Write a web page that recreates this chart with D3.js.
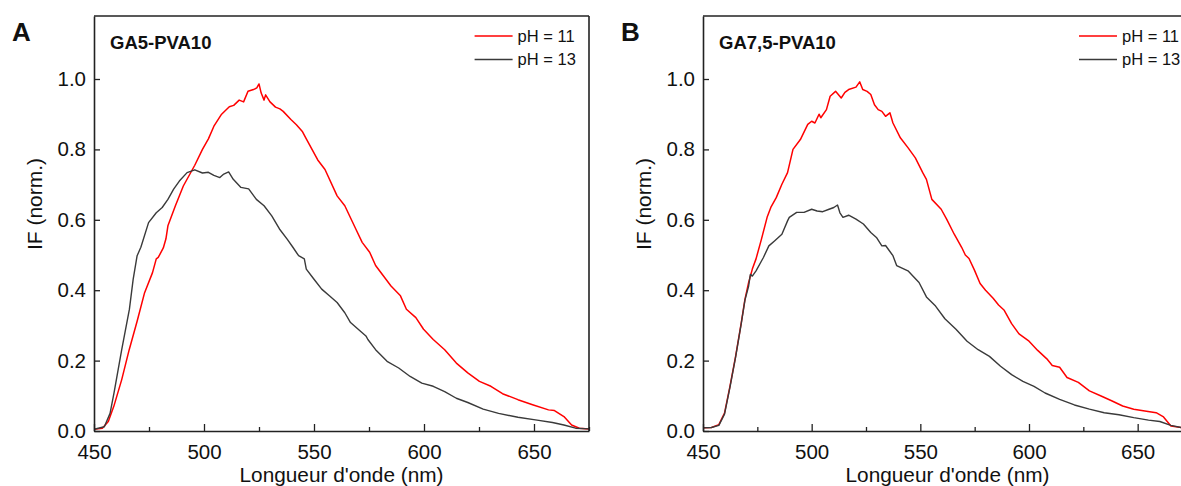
<!DOCTYPE html>
<html>
<head>
<meta charset="utf-8">
<script src="https://cdn.jsdelivr.net/npm/d3@7"></script>
<style>
  html, body { margin: 0; padding: 0; background: #fff; }
  svg { display: block; font-family: "Liberation Sans", Arial, sans-serif; }
</style>
</head>
<body>
<svg id="chart" width="1181" height="486"></svg>
<script>
// ---------------- DATA ----------------
const xTicks = [450, 500, 550, 600, 650];
const xMinorTicks = [475, 525, 575, 625, 675];
const yTicks = [0.0, 0.2, 0.4, 0.6, 0.8, 1.0];
const legendLabels = ["pH = 11", "pH = 13"];
const panelLetters = ["A", "B"];
const panelTitles = ["GA5-PVA10", "GA7,5-PVA10"];
const xLabel = "Longueur d'onde (nm)";
const yLabel = "IF (norm.)";

// Panel A, pH = 11
const wlA11 = [450,453.8,456.5,459,462.6,466,469.6,473,476.6,478.3,479.2,481.5,482.7,483.6,487,490.6,495.8,499.3,502,504.5,508,511.5,513.5,516,518,520,522.5,524,525,526,527.3,528,530,532.5,534.5,536,539.5,542,544.8,546.5,551.7,555,560.5,564,569,571.9,575.3,578,581.5,585,589.3,592,596.3,599.8,604.2,609.4,614.7,619.9,625.2,630.4,635.7,642.7,649.7,656.6,659.3,663.6,667.1,670.6,675];
const ifA11 = [0.005,0.008,0.027,0.07,0.146,0.231,0.312,0.393,0.45,0.489,0.493,0.52,0.546,0.583,0.64,0.696,0.755,0.80,0.83,0.866,0.9,0.921,0.925,0.94,0.935,0.965,0.97,0.975,0.986,0.96,0.94,0.955,0.935,0.92,0.915,0.908,0.885,0.87,0.85,0.83,0.77,0.743,0.668,0.64,0.574,0.536,0.508,0.47,0.441,0.412,0.384,0.346,0.322,0.289,0.26,0.231,0.193,0.165,0.141,0.127,0.106,0.089,0.074,0.06,0.058,0.041,0.017,0.008,0.006];

// Panel A, pH = 13
const wlA13 = [450,454.7,457.3,459.1,462.6,466.1,467.8,469.6,471.3,474.8,478.3,481,483.6,486.2,488.8,492.3,495.8,499.3,502,504.5,507.2,509,511.2,513.3,516.8,520.3,523.8,527.3,530.8,534.3,537.8,540.4,543,545.6,546.5,550,553.5,557,560.5,564,566.6,571,573.6,574.5,578,583.2,588.5,593.7,599,604.2,609.4,614.7,619.9,626.9,633.9,642.7,651.4,658.4,663.6,668.9,675];
const ifA13 = [0.005,0.012,0.05,0.108,0.231,0.346,0.431,0.498,0.522,0.592,0.62,0.635,0.658,0.687,0.71,0.734,0.742,0.733,0.735,0.726,0.72,0.73,0.736,0.715,0.692,0.688,0.658,0.64,0.611,0.574,0.545,0.522,0.498,0.489,0.46,0.431,0.403,0.384,0.365,0.336,0.308,0.284,0.27,0.26,0.231,0.198,0.179,0.155,0.136,0.127,0.112,0.093,0.081,0.062,0.05,0.039,0.031,0.024,0.017,0.008,0.006];

// Panel B, pH = 11
const wlB11 = [450,453.9,457.3,459.9,462.4,465,467.6,469.3,471,472.7,474.4,476.9,479.5,481.2,483.7,486.3,488.9,491.4,494.8,498.2,500,501.5,503.4,504.2,506.8,508.5,511,513.6,515.3,517,520.4,522.1,523.5,525.5,527.2,528.9,530.6,532.3,534,536,537.4,540.8,544.3,547.7,551.1,552.8,555.3,559.6,562.1,565.6,569,570.7,572.4,574.9,577.5,580,583.5,586,588.6,592,595.4,599.7,604,608.2,610.7,614.1,617.5,622.7,627.8,632.9,638,643.1,648.2,653.3,658.5,661.9,665.3,670,675];
const ifB11 = [0.009,0.01,0.018,0.051,0.127,0.212,0.307,0.374,0.422,0.46,0.489,0.545,0.607,0.635,0.663,0.701,0.734,0.8,0.828,0.871,0.88,0.875,0.9,0.89,0.913,0.951,0.965,0.946,0.962,0.97,0.977,0.992,0.97,0.965,0.956,0.927,0.913,0.908,0.894,0.904,0.875,0.833,0.805,0.776,0.734,0.715,0.658,0.63,0.602,0.559,0.522,0.5,0.49,0.457,0.419,0.4,0.377,0.358,0.343,0.305,0.276,0.257,0.229,0.205,0.186,0.181,0.152,0.138,0.114,0.1,0.086,0.071,0.062,0.057,0.052,0.04,0.014,0.01,0.008];

// Panel B, pH = 13
const wlB13 = [450,453.9,457.3,459.9,462.4,465,467.6,469.3,471,471.8,472.7,474.4,477.8,480.3,482.9,486.3,488.9,489.7,493.1,496.5,500,502.5,505.1,508,510.2,511.9,513,514.4,517,520.4,523.8,527.2,529.8,532.3,534,537.4,539.1,544.3,549.4,552.8,557,561.3,566.4,571.5,576.6,581.8,586.9,592,597.2,602.3,607.4,614.1,620.9,627.8,634.6,641.4,648.2,655,660.2,665.3,670,675];
const ifB13 = [0.009,0.01,0.016,0.048,0.124,0.21,0.305,0.372,0.412,0.445,0.44,0.455,0.493,0.526,0.54,0.559,0.597,0.607,0.621,0.621,0.63,0.625,0.623,0.63,0.635,0.642,0.62,0.607,0.613,0.602,0.588,0.564,0.55,0.526,0.527,0.498,0.47,0.455,0.422,0.381,0.355,0.319,0.289,0.255,0.231,0.212,0.184,0.16,0.141,0.127,0.108,0.09,0.074,0.062,0.052,0.046,0.038,0.031,0.027,0.016,0.01,0.008];

const seriesColors = ["#ff0000", "#3a3a3a"];

// ---------------- DRAW ----------------
const svg = d3.select("#chart");
const FONT = '"Liberation Sans", Arial, sans-serif';

const panels = [
  { left: 94, width: 495, series: [[wlA11, ifA11], [wlA13, ifA13]] },
  { left: 703, width: 489, series: [[wlB11, ifB11], [wlB13, ifB13]] }
];
const plotTop = 16, plotBottom = 431;

panels.forEach((p, i) => {
  const x = d3.scaleLinear().domain([450, 675]).range([p.left, p.left + p.width]);
  const y = d3.scaleLinear().domain([0, 1.179]).range([plotBottom, plotTop]);

  const g = svg.append("g");

  const clipId = "clip" + i;
  svg.append("clipPath").attr("id", clipId)
    .append("rect").attr("x", p.left).attr("y", plotTop)
    .attr("width", p.width).attr("height", plotBottom - plotTop);

  const line = d3.line().x(d => x(d[0])).y(d => y(d[1]));
  p.series.forEach((s, k) => {
    const pts = s[0].map((w, j) => [w, s[1][j]]);
    g.append("path").datum(pts)
      .attr("clip-path", `url(#${clipId})`)
      .attr("fill", "none")
      .attr("stroke", seriesColors[k])
      .attr("stroke-width", k === 0 ? 1.5 : 1.4)
      .attr("stroke-linejoin", "round")
      .attr("d", line);
  });

  // frame (top + right)
  g.append("line").attr("x1", p.left).attr("x2", p.left + p.width)
    .attr("y1", plotTop).attr("y2", plotTop).attr("stroke", "#222").attr("stroke-width", 1.6);
  g.append("line").attr("x1", p.left + p.width).attr("x2", p.left + p.width)
    .attr("y1", plotTop).attr("y2", plotBottom).attr("stroke", "#222").attr("stroke-width", 1.6);

  // x axis (minor)
  const xMinor = d3.axisBottom(x).tickValues(xMinorTicks).tickSizeInner(-4).tickSizeOuter(0).tickFormat("");
  const gxm = g.append("g").attr("transform", `translate(0,${plotBottom})`).call(xMinor);
  gxm.select(".domain").remove();
  gxm.selectAll(".tick line").attr("stroke", "#222").attr("stroke-width", 1.3);

  // x axis (major)
  const xAxis = d3.axisBottom(x).tickValues(xTicks).tickSizeInner(-7).tickSizeOuter(0)
    .tickPadding(13).tickFormat(d3.format("d"));
  const gx = g.append("g").attr("transform", `translate(0,${plotBottom})`).call(xAxis);
  gx.select(".domain").attr("stroke", "#222").attr("stroke-width", 1.6);
  gx.selectAll(".tick line").attr("stroke", "#222").attr("stroke-width", 1.3);
  gx.selectAll(".tick text").attr("font-family", FONT).attr("font-size", 20.5).attr("fill", "#111");

  // y axis
  const yAxis = d3.axisLeft(y).tickValues(yTicks).tickSizeInner(-6).tickSizeOuter(0)
    .tickPadding(8).tickFormat(d3.format(".1f"));
  const gy = g.append("g").attr("transform", `translate(${p.left},0)`).call(yAxis);
  gy.select(".domain").attr("stroke", "#222").attr("stroke-width", 1.6);
  gy.selectAll(".tick line").attr("stroke", "#222").attr("stroke-width", 1.3);
  gy.selectAll(".tick text").attr("font-family", FONT).attr("font-size", 20.5).attr("fill", "#111");

  // axis labels
  g.append("text").attr("x", p.left + p.width / 2).attr("y", 482)
    .attr("text-anchor", "middle").attr("font-family", FONT).attr("font-size", 20.8)
    .attr("fill", "#111").text(xLabel);
  g.append("text").attr("transform", `translate(${p.left - 52},204) rotate(-90)`)
    .attr("text-anchor", "middle").attr("font-family", FONT).attr("font-size", 21)
    .attr("fill", "#111").text(yLabel);

  // panel letter + title
  g.append("text").attr("x", p.left - 82).attr("y", 41)
    .attr("font-family", FONT).attr("font-size", 26).attr("font-weight", "bold")
    .attr("fill", "#111").text(panelLetters[i]);
  g.append("text").attr("x", p.left + 16).attr("y", 49)
    .attr("font-family", FONT).attr("font-size", 18.5).attr("font-weight", "bold")
    .attr("fill", "#111").text(panelTitles[i]);

  // legend
  const lx = x(623);
  legendLabels.forEach((lab, k) => {
    const ly = 36 + k * 23.5;
    g.append("line").attr("x1", lx).attr("x2", lx + 38).attr("y1", ly).attr("y2", ly)
      .attr("stroke", seriesColors[k]).attr("stroke-width", k === 0 ? 1.5 : 1.4);
    g.append("text").attr("x", lx + 43).attr("y", ly).attr("dy", "0.35em")
      .attr("font-family", FONT).attr("font-size", 16.5).attr("fill", "#111").text(lab);
  });
});
</script>
</body>
</html>
